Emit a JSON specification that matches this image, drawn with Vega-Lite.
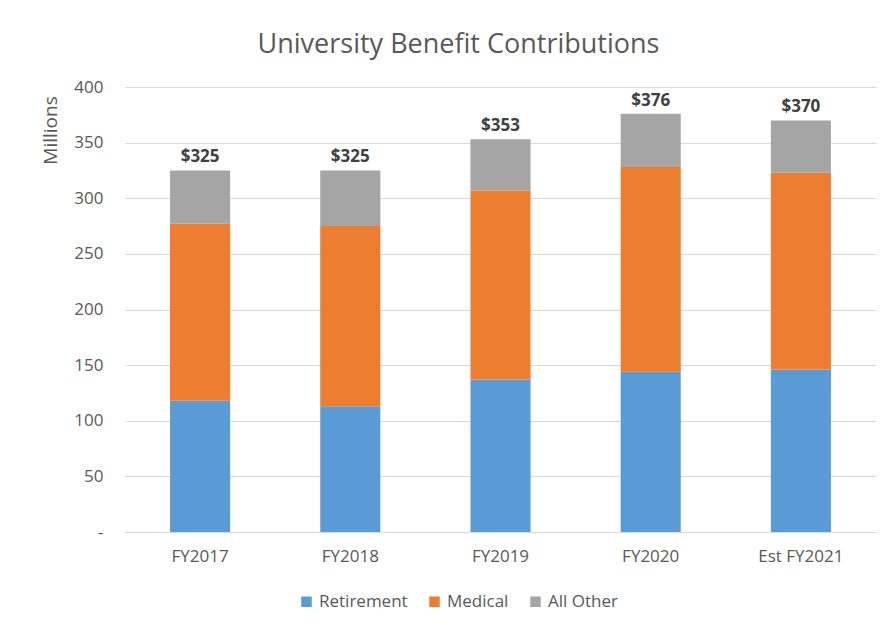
{
  "$schema": "https://vega.github.io/schema/vega-lite/v6.json",
  "width": 751,
  "height": 445,
  "autosize": {"type": "none"},
  "padding": {"left": 125, "top": 87, "right": 10, "bottom": 96},
  "background": "white",
  "title": {
    "text": "University Benefit Contributions",
    "font": "Open Sans",
    "fontSize": 27,
    "fontWeight": "normal",
    "color": "#595959",
    "anchor": "middle",
    "offset": 19,
    "frame": "bounds"
  },
  "config": {
    "view": {"stroke": null},
    "font": "Open Sans",
    "axis": {"labelColor": "#595959", "labelFont": "Open Sans", "labelFontSize": 17, "titleFont": "Open Sans", "titleColor": "#595959", "titleFontWeight": "normal", "titleFontSize": 16}
  },
  "data": {
    "values": [
      {"year": "FY2017", "type": "Retirement", "value": 118},
      {"year": "FY2017", "type": "Medical", "value": 159},
      {"year": "FY2017", "type": "All Other", "value": 48},
      {"year": "FY2018", "type": "Retirement", "value": 113},
      {"year": "FY2018", "type": "Medical", "value": 162},
      {"year": "FY2018", "type": "All Other", "value": 50},
      {"year": "FY2019", "type": "Retirement", "value": 137},
      {"year": "FY2019", "type": "Medical", "value": 170},
      {"year": "FY2019", "type": "All Other", "value": 46},
      {"year": "FY2020", "type": "Retirement", "value": 144},
      {"year": "FY2020", "type": "Medical", "value": 184},
      {"year": "FY2020", "type": "All Other", "value": 48},
      {"year": "Est FY2021", "type": "Retirement", "value": 146},
      {"year": "Est FY2021", "type": "Medical", "value": 177},
      {"year": "Est FY2021", "type": "All Other", "value": 47}
    ]
  },
  "encoding": {
    "x": {
      "field": "year", "type": "nominal", "sort": null,
      "scale": {"paddingInner": 0.6, "paddingOuter": 0.3},
      "axis": {"title": null, "labelAngle": 0, "ticks": false, "domainColor": "#d9d9d9", "labelPadding": 16}
    }
  },
  "layer": [
    {
      "mark": {"type": "bar"},
      "encoding": {
        "y": {
          "field": "value", "type": "quantitative", "aggregate": "sum",
          "scale": {"domain": [0, 400]},
          "axis": {
            "title": "Millions", "values": [0, 50, 100, 150, 200, 250, 300, 350, 400],
            "labelExpr": "datum.value == 0 ? '-' : datum.label", "labelOverlap": false,
            "grid": true, "gridColor": "#d9d9d9", "domain": false, "ticks": false, "labelPadding": 22,
            "titleAngle": -90, "titleX": -75, "titleY": 43, "titleAlign": "center", "titleBaseline": "middle", "titleFontSize": 19
          }
        },
        "color": {
          "field": "type", "type": "nominal",
          "sort": ["Retirement", "Medical", "All Other"],
          "scale": {"domain": ["Retirement", "Medical", "All Other"], "range": ["#5B9BD5", "#ED7D31", "#A5A5A5"]},
          "legend": {
            "title": null, "orient": "none", "direction": "horizontal", "legendX": 173, "legendY": 506,
            "symbolType": "square", "symbolSize": 110, "labelFontSize": 17, "labelColor": "#595959", "labelFont": "Open Sans",
            "columnPadding": 18, "symbolStrokeWidth": 0, "labelOffset": 4
          }
        }
      }
    },
    {
      "transform": [{"aggregate": [{"op": "sum", "field": "value", "as": "total"}], "groupby": ["year"]}],
      "mark": {"type": "text", "dy": -13, "fontWeight": "bold", "fontSize": 17, "color": "#404040", "font": "Open Sans"},
      "encoding": {
        "y": {
          "field": "total", "type": "quantitative",
          "axis": {
            "title": "Millions", "values": [0, 50, 100, 150, 200, 250, 300, 350, 400],
            "labelExpr": "datum.value == 0 ? '-' : datum.label", "labelOverlap": false,
            "grid": true, "gridColor": "#d9d9d9", "domain": false, "ticks": false, "labelPadding": 22,
            "titleAngle": -90, "titleX": -75, "titleY": 43, "titleAlign": "center", "titleBaseline": "middle", "titleFontSize": 19
          }
        },
        "text": {"field": "total", "type": "quantitative", "format": "$.0f"}
      }
    }
  ]
}
